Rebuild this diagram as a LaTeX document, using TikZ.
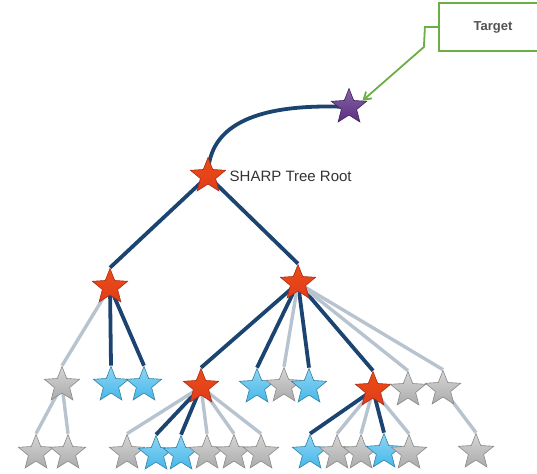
\documentclass[tikz,border=0pt]{standalone}
\usepackage{fontspec}
\setmainfont{Liberation Sans}
\usetikzlibrary{shapes.geometric, arrows.meta, positioning, backgrounds}

\definecolor{linkdark}{HTML}{1B4470}
\definecolor{linklight}{HTML}{B7C4D0}
\definecolor{starred}{HTML}{E23C1C}
\definecolor{starblue}{HTML}{45B8EA}
\definecolor{stargray}{HTML}{ABABAB}
\definecolor{starpurple}{HTML}{5B2F84}
\definecolor{boxgreen}{HTML}{6BAE45}

\begin{document}
\begin{tikzpicture}[x=1pt, y=1pt]
        \tikzset{
            starnode/.style={star, star points=5, star point ratio=2.3, minimum size=37pt, inner sep=0pt, line width=0.6pt},
            redstar/.style={starnode, draw=starred!75!black, top color=starred!75!orange, bottom color=starred},
            bluestar/.style={starnode, draw=starblue!70!black, top color=starblue!60!white, bottom color=starblue},
            graystar/.style={starnode, draw=stargray!80!black, top color=stargray!50!white, bottom color=stargray},
            goalstar/.style={starnode, draw=starpurple!70!black, top color=starpurple!75!white, bottom color=starpurple},
            darklink/.style={draw=linkdark, line width=3.8pt},
            lightlink/.style={draw=linklight, line width=3.4pt},
            rootlabel/.style={font=\fontsize{15}{17}\selectfont, text=black!80},
            targetbox/.style={draw=boxgreen, line width=2.2pt, minimum width=108pt, minimum height=48pt, font=\fontsize{13}{15}\selectfont\bfseries, text=black!68}
        }

        \clip (0,0) rectangle (537,473);

        % --- TARGET ---
        \node[targetbox] (tbox) at (493,446) {Target};
        \node[goalstar] (tgt) at (349,366) {};

        % --- ROOT ---
        \node[redstar] (root) at (208,297) {};
        \node[rootlabel, right=7pt of root] (rootlbl) {SHARP Tree Root};

        % --- LEVEL 1 ---
        \node[redstar] (la) at (110,186) {};
        \node[redstar] (ra) at (298,190) {};

        % --- LEVEL 2 ---
        \node[graystar] (g1) at (62,88) {};
        \node[bluestar] (b1) at (111,88) {};
        \node[bluestar] (b2) at (144,88) {};
        \node[redstar]  (r1) at (201,86) {};
        \node[bluestar] (b3) at (257,86) {};
        \node[graystar] (g2) at (284,87) {};
        \node[bluestar] (b4) at (309,86) {};
        \node[redstar]  (r2) at (373,83) {};
        \node[graystar] (g3) at (408,83) {};
        \node[graystar] (g4) at (443,84) {};

        % --- LEVEL 3 ---
        \node[graystar] (n1) at (36,20) {};
        \node[graystar] (n2) at (68,20) {};
        \node[graystar] (n3) at (127,20) {};
        \node[bluestar] (n4) at (156,19) {};
        \node[bluestar] (n5) at (181,19) {};
        \node[graystar] (n6) at (207,20) {};
        \node[graystar] (n7) at (234,20) {};
        \node[graystar] (n8) at (261,20) {};
        \node[bluestar] (n9) at (310,20) {};
        \node[graystar] (n10) at (337,20) {};
        \node[graystar] (n11) at (361,20) {};
        \node[bluestar] (n12) at (384,21) {};
        \node[graystar] (n13) at (409,20) {};
        \node[graystar] (n14) at (476,21) {};

        % Pointer to the target
        \draw[boxgreen, line width=1.8pt, -{Straight Barb[length=7pt, width=9pt]}] (tbox.west) -- ++(-13,0) -- ++(-1,-20) -- (tgt.25);

        \begin{scope}[on background layer]
            % Root uplink
            \draw[darklink] (root.center) .. controls (208,350) and (260,370) .. (tgt.center);

            % Active links
            \draw[darklink] (root.center) -- (la.north);
            \draw[darklink] (root.center) -- (ra.north);
            \draw[darklink] (la.center) -- (b1.north);
            \draw[darklink] (la.center) -- (b2.north);
            \draw[darklink] (ra.center) -- (r1.north);
            \draw[darklink] (ra.center) -- (b3.north);
            \draw[darklink] (ra.center) -- (b4.north);
            \draw[darklink] (ra.center) -- (r2.north);
            \draw[darklink] (r1.center) -- (n4.north);
            \draw[darklink] (r1.center) -- (n5.north);
            \draw[darklink] (r2.center) -- (n9.north);
            \draw[darklink] (r2.center) -- (n12.north);

            % Idle links
            \draw[lightlink] (la.center) -- (g1.north);
            \draw[lightlink] (ra.center) -- (g2.north);
            \draw[lightlink] (ra.center) -- (g3.north);
            \draw[lightlink] (ra.center) -- (g4.north);
            \draw[lightlink] (g1.center) -- (n1.north);
            \draw[lightlink] (g1.center) -- (n2.north);
            \draw[lightlink] (r1.center) -- (n3.north);
            \draw[lightlink] (r1.center) -- (n6.north);
            \draw[lightlink] (r1.center) -- (n7.north);
            \draw[lightlink] (r1.center) -- (n8.north);
            \draw[lightlink] (r2.center) -- (n10.north);
            \draw[lightlink] (r2.center) -- (n11.north);
            \draw[lightlink] (r2.center) -- (n13.north);
            \draw[lightlink] (g4.center) -- (n14.north);
        \end{scope}

    \end{tikzpicture}
\end{document}
